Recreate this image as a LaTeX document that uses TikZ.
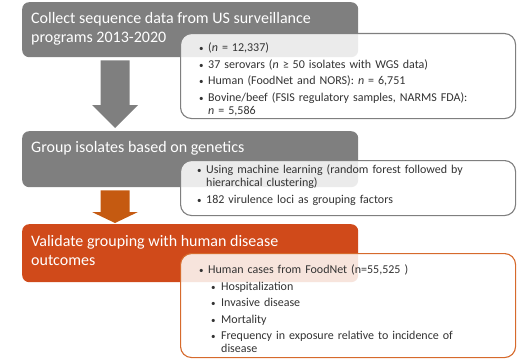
\documentclass[tikz,border=0pt]{standalone}
\usepackage{fontspec}
\setmainfont{Carlito}
\usepackage{tikz}
\usepackage{xcolor}
\usetikzlibrary{calc,positioning}

\definecolor{boxgrey}{HTML}{7F7F7F}
\definecolor{boxorange}{HTML}{D04A1A}
\definecolor{arroworange}{HTML}{C55A11}
\definecolor{lineorange}{HTML}{D66A2C}
\definecolor{notegrey}{HTML}{333333}

% bullet lines for the note boxes
\newcommand{\bul}[1]{\par\noindent\hangindent=9pt\hangafter=1\makebox[9pt][l]{\small\textbullet}#1}
\newcommand{\subbul}[1]{\par\noindent\hangindent=22pt\hangafter=1\hspace*{12pt}\makebox[10pt][l]{\small\textbullet}#1}
% block arrow: top, tip, head length, colour
\newcommand{\blockarrow}[4]{%
  \fill[#4] ($(#1)+(-14.5,0)$) -- ($(#1)+(14.5,0)$) -- ($(#2)+(14.5,-#3)$) -- ($(#2)+(23,-#3)$)
    -- (#2) -- ($(#2)+(-23,-#3)$) -- ($(#2)+(-14.5,-#3)$) -- cycle;}

\begin{document}
\begin{tikzpicture}[x=1pt,y=-1pt]
        \tikzstyle{stepbox}=[rounded corners=7pt, minimum width=336pt, inner sep=0pt, anchor=north west]
        \tikzstyle{notebox}=[line width=1.1pt, fill=white, fill opacity=0.85, rounded corners=11pt, minimum width=335pt, inner sep=0pt, anchor=north west]
        \tikzstyle{steptext}=[text=white, font=\fontsize{16}{19}\selectfont, align=left, inner sep=0pt, anchor=north west]
        \tikzstyle{notetext}=[text=notegrey, font=\fontsize{12}{13}\selectfont\setlength{\parskip}{3.5pt}, align=left, text width=310pt, inner sep=0pt, anchor=north west]

        \useasboundingbox (0,0) rectangle (517,361);

        % step 1
        \node[stepbox, fill=boxgrey, minimum height=55pt] (collect) at (22,2) {};
        \node[steptext] (collecttxt) at ($(collect.north west)+(9,10)$) {Collect sequence data from US surveillance\\programs 2013-2020};
        \node[notebox, draw=boxgrey, minimum height=85pt] (data) at (180,33) {};
        \node[notetext] (datatxt) at ($(data.north west)+(19,2)$) {%
            \bul{(\textit{n} = 12,337)}
            \bul{37 serovars (\textit{n} ≥ 50 isolates with WGS data)}
            \bul{Human (FoodNet and NORS): \textit{n} = 6,751}
            \bul{Bovine/beef (FSIS regulatory samples, NARMS FDA):\break\textit{n} = 5,586}\par};

        % step 2
        \node[stepbox, fill=boxgrey, minimum height=56pt] (group) at (22,131) {};
        \node[steptext] (grouptxt) at ($(group.north west)+(9,10.5)$) {Group isolates based on genetics};
        \node[notebox, draw=boxgrey, minimum height=55pt] (method) at (180,160) {};
        \node[notetext] (methodtxt) at ($(method.north west)+(17,-3)$) {%
            \bul{Using machine learning (random forest followed by\break hierarchical clustering)}
            \bul{182 virulence loci as grouping factors}\par};

        % step 3
        \node[stepbox, fill=boxorange, minimum height=58pt] (validate) at (22,224) {};
        \node[steptext] (validatetxt) at ($(validate.north west)+(9,11.5)$) {Validate grouping with human disease\\outcomes};
        \node[notebox, draw=lineorange, minimum height=104pt] (outcome) at (180,253) {};
        \node[notetext] (outcometxt) at ($(outcome.north west)+(19,4)$) {%
            \bul{Human cases from FoodNet (n=55,525 )}
            \subbul{Hospitalization}
            \subbul{Invasive disease}
            \subbul{Mortality}
            \subbul{Frequency in exposure relative to incidence of\break disease}\par};

        % arrows
        \coordinate (a1top) at ($(collect.south west)+(93,3)$);
        \coordinate (a1tip) at ($(group.north west)+(93,-3)$);
        \blockarrow{a1top}{a1tip}{23}{boxgrey}
        \coordinate (a2top) at ($(group.south west)+(93,3)$);
        \coordinate (a2tip) at ($(validate.north west)+(93,-1)$);
        \blockarrow{a2top}{a2tip}{11}{arroworange}
\end{tikzpicture}
\end{document}
